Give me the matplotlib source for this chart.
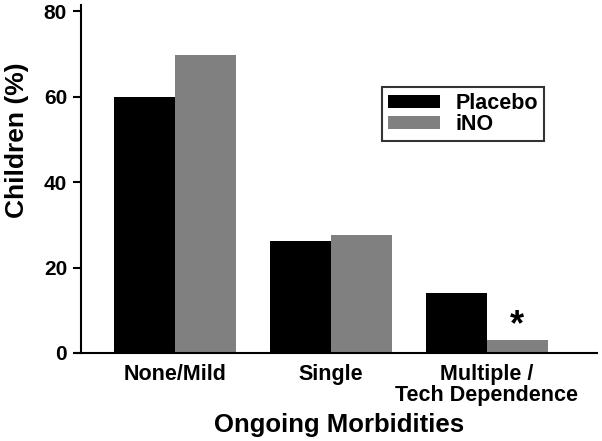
import matplotlib
matplotlib.use("Agg")
import matplotlib.pyplot as plt
import numpy as np

plt.rcParams['font.family'] = ['Liberation Sans', 'DejaVu Sans']
plt.rcParams['font.weight'] = 'bold'

# data
categories = ['None/Mild', 'Single', 'Multiple /\nTech Dependence']
placebo = [60.0, 26.3, 14.0]
ino = [69.7, 27.7, 3.0]
yticks = [0, 20, 40, 60, 80]

fig = plt.figure(figsize=(6.02, 4.41), dpi=100)
ax = fig.add_axes([81/602, 88/441, (597-81)/602, (353-5)/441])

x = np.arange(len(categories))
w = 0.39
ax.bar(x - w/2, placebo, w, color='black', label='Placebo')
ax.bar(x + w/2, ino, w, color='#808080', label='iNO')

# significance marker over the iNO bar
ax.text(x[2] + w/2, ino[2] + 3.4, '*', fontsize=26, fontweight='bold', ha='center', va='center')

ax.set_xlim(-0.6, 2.705)
ax.set_ylim(0, 81.5)
ax.set_yticks(yticks)
ax.set_xticks(x)
ax.set_xticklabels(categories, fontsize=15.5, fontweight='bold', linespacing=1.0)
ax.tick_params(axis='x', length=0, pad=8)
ax.tick_params(axis='y', length=6, width=1.5, labelsize=15, pad=4)
for lab in ax.get_yticklabels():
    lab.set_fontweight('bold')

ax.spines['top'].set_visible(False)
ax.spines['right'].set_visible(False)
ax.spines['left'].set_linewidth(1.5)
ax.spines['bottom'].set_linewidth(1.5)
ax.spines['bottom'].set_bounds(-0.64, 2.705)

ax.set_ylabel('Children (%)', fontsize=19, fontweight='bold')
ax.yaxis.set_label_coords(-0.101, 0.612)
ax.set_xlabel('Ongoing Morbidities', fontsize=18.5, fontweight='bold', labelpad=5)

leg = ax.legend(loc='upper left', bbox_to_anchor=(382/602, 1 - 87/441), bbox_transform=fig.transFigure,
                borderaxespad=0, frameon=True, fancybox=False,
                fontsize=15.5, handlelength=2.4, handleheight=0.6, borderpad=0.28,
                labelspacing=0.0, handletextpad=0.75, edgecolor='black')
leg.get_frame().set_linewidth(1.5)
for t in leg.get_texts():
    t.set_fontweight('bold')

fig.savefig('out.png', dpi=100)
